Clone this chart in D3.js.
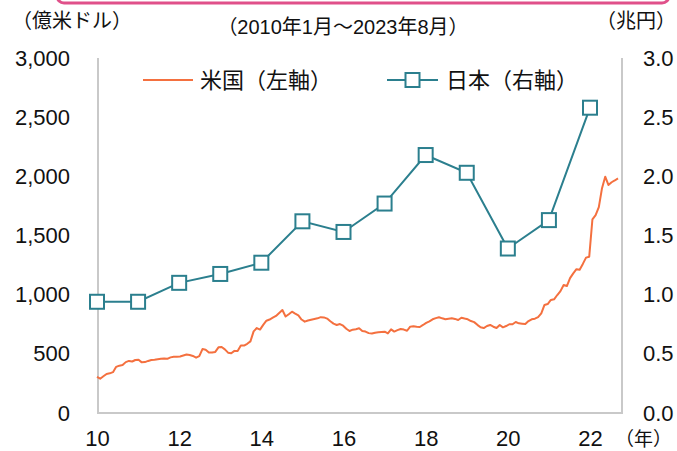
<!DOCTYPE html>
<html><head><meta charset="utf-8">
<script src="https://cdn.jsdelivr.net/npm/d3@7"></script>
<style>
html,body{margin:0;padding:0;background:#fff;}
svg{display:block;}
text{font-family:"Liberation Sans","Noto Sans CJK JP",sans-serif;fill:#111;}
</style></head><body>
<script>
// US series: monthly, Jan 2010 .. Aug 2023 (億米ドル)
const usValues = [305,290,310,330,335,345,390,400,405,430,440,435,
448,450,428,430,440,448,450,454,458,460,458,470,
475,476,478,486,494,490,482,468,480,540,535,512,
512,516,555,558,538,510,505,525,524,570,570,585,
605,690,718,705,745,780,790,805,820,845,870,815,
835,856,840,825,790,772,782,788,794,800,810,808,
798,775,755,744,752,738,712,693,704,708,716,693,
688,675,672,678,682,685,687,673,707,688,700,710,
705,695,730,734,729,727,744,762,775,792,802,809,
800,792,796,800,795,786,805,798,792,777,768,745,
724,718,735,744,729,718,744,724,735,750,750,769,
758,755,752,777,792,797,810,842,913,921,955,961,
997,1030,1082,1073,1140,1180,1215,1210,1260,1313,1321,1637,
1673,1740,1900,1997,1927,1950,1965,1983];
// Japan series: annual (兆円)
const jpYears = [2010,2011,2012,2013,2014,2015,2016,2017,2018,2019,2020,2021,2022];
const jpValues = [0.94,0.94,1.10,1.175,1.27,1.62,1.53,1.77,2.18,2.03,1.39,1.63,2.58];
const leftTicks = [0,500,1000,1500,2000,2500,3000];
const rightTicks = [0,0.5,1.0,1.5,2.0,2.5,3.0];
const xTickYears = [2010,2012,2014,2016,2018,2020,2022];
const seriesNames = ["米国（左軸）","日本（右軸）"];
const leftUnit = "（億米ドル）", rightUnit = "（兆円）", periodLabel = "（2010年1月～2023年8月）", xUnit = "（年）";

const W=677,H=451;
const L=98,R=622,T=58,B=413;
const orange="#f4703f", teal="#2b7f8e", grid="#c9c9c9";

const svg=d3.select("body").append("svg").attr("width",W).attr("height",H);

// top pink frame edge
svg.append("rect").attr("x",57).attr("y",-30).attr("width",612).attr("height",33)
  .attr("rx",7).attr("fill","none").attr("stroke","#e0508a").attr("stroke-width",3);

const yL=d3.scaleLinear().domain([0,3000]).range([B,T]);
const yR=d3.scaleLinear().domain([0,3]).range([B,T]);
const xM=d3.scaleLinear().domain([0,163]).range([L-1,R-4]);
const xY=d3.scaleLinear().domain([2010,2022]).range([L-1,590]);

// axes frame
svg.append("line").attr("x1",L).attr("x2",L).attr("y1",T).attr("y2",B).attr("stroke",grid).attr("stroke-width",2);
svg.append("line").attr("x1",R).attr("x2",R).attr("y1",T).attr("y2",B).attr("stroke",grid).attr("stroke-width",2);
svg.append("line").attr("x1",L-1).attr("x2",R+1).attr("y1",B).attr("y2",B).attr("stroke",grid).attr("stroke-width",2);

// left axis
const axL=d3.axisLeft(yL).tickValues(leftTicks).tickSize(0).tickPadding(0).tickFormat(d3.format(","));
const gL=svg.append("g").attr("transform",`translate(70,0)`).call(axL);
gL.select(".domain").remove();
gL.selectAll("text").attr("font-size",22).attr("fill","#111").attr("font-family",'"Liberation Sans",sans-serif');

// right axis
const axR=d3.axisRight(yR).tickValues(rightTicks).tickSize(0).tickPadding(0).tickFormat(d3.format(".1f"));
const gR=svg.append("g").attr("transform",`translate(643,0)`).call(axR);
gR.select(".domain").remove();
gR.selectAll("text").attr("font-size",22).attr("fill","#111").attr("font-family",'"Liberation Sans",sans-serif');

// bottom axis
const axB=d3.axisBottom(xY).tickValues(xTickYears).tickSize(0).tickPadding(0).tickFormat(d=>String(d%100).padStart(2,"0"));
const gB=svg.append("g").attr("transform",`translate(0,${B+17})`).call(axB);
gB.select(".domain").remove();
gB.selectAll("text").attr("font-size",22).attr("fill","#111").attr("font-family",'"Liberation Sans",sans-serif');

svg.append("text").attr("x",615).attr("y",446).attr("font-size",19).text(xUnit);

// unit labels
svg.append("text").attr("x",12).attr("y",28).attr("font-size",20).text(leftUnit);
svg.append("text").attr("x",596).attr("y",28).attr("font-size",20).text(rightUnit);
svg.append("text").attr("x",343).attr("y",34).attr("text-anchor","middle").attr("font-size",20).text(periodLabel);

// US line
svg.append("path").datum(usValues)
  .attr("d",d3.line().x((d,i)=>xM(i)).y(d=>yL(d)))
  .attr("fill","none").attr("stroke",orange).attr("stroke-width",2).attr("stroke-linejoin","round");

// Japan line
svg.append("path").datum(jpValues)
  .attr("d",d3.line().x((d,i)=>xY(jpYears[i])).y(d=>yR(d)))
  .attr("fill","none").attr("stroke",teal).attr("stroke-width",2);
const s=14;
svg.selectAll("rect.jp").data(jpValues).enter().append("rect").attr("class","jp")
  .attr("x",(d,i)=>xY(jpYears[i])-s/2).attr("y",d=>yR(d)-s/2)
  .attr("width",s).attr("height",s).attr("fill","#fff").attr("stroke",teal).attr("stroke-width",2);

// legend
const ly=80;
svg.append("line").attr("x1",143).attr("x2",193).attr("y1",ly).attr("y2",ly).attr("stroke",orange).attr("stroke-width",2);
svg.append("text").attr("x",200).attr("y",ly+8).attr("font-size",22).text(seriesNames[0]);
svg.append("line").attr("x1",387).attr("x2",438).attr("y1",ly).attr("y2",ly).attr("stroke",teal).attr("stroke-width",2);
svg.append("rect").attr("x",412.5-s/2).attr("y",ly-s/2).attr("width",s).attr("height",s).attr("fill","#fff").attr("stroke",teal).attr("stroke-width",2);
svg.append("text").attr("x",446).attr("y",ly+8).attr("font-size",22).text(seriesNames[1]);
</script>
</body></html>
